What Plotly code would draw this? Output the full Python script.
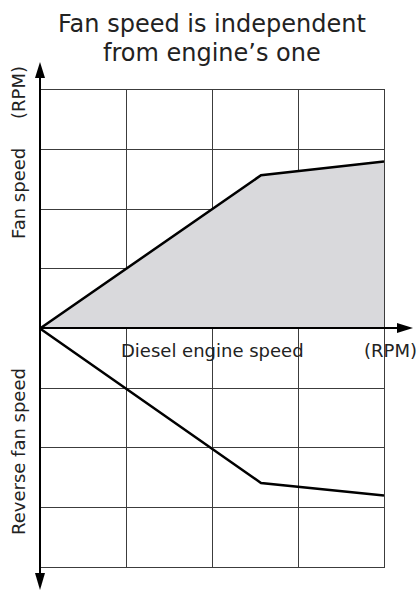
import plotly.graph_objs as go

# engine speed (grid units) and fan speed curves
engine_speed = [0, 2.57, 4]
fan_speed = [0, 2.57, 2.8]
reverse_fan_speed = [0, -2.59, -2.8]

x_ticks = [0, 1, 2, 3, 4]
y_ticks = [-4, -3, -2, -1, 0, 1, 2, 3, 4]

FONT = 'DejaVu Sans'
GRID = '#3c3c3c'
FILL = '#d9d9dc'
W, H = 419, 590
MARGINS = dict(l=40, r=35, t=90, b=23)


def px(x):
    return (x - MARGINS['l']) / (W - MARGINS['l'] - MARGINS['r'])


def py(y):
    return (H - MARGINS['b'] - y) / (H - MARGINS['t'] - MARGINS['b'])


fig = go.Figure()
fig.add_trace(go.Scatter(
    x=engine_speed, y=fan_speed, mode='lines', fill='tozeroy',
    fillcolor=FILL, line=dict(color='black', width=2.5), showlegend=False,
))
fig.add_trace(go.Scatter(
    x=engine_speed, y=reverse_fan_speed, mode='lines',
    line=dict(color='black', width=2.5), showlegend=False,
))

# axis lines with arrow heads (paper coords so they are not clipped)
x0, y0 = px(40), py(328)
shapes = [
    dict(type='line', xref='paper', yref='paper', x0=x0, x1=px(400),
         y0=y0, y1=y0, line=dict(color='black', width=2)),
    dict(type='line', xref='paper', yref='paper', x0=x0, x1=x0,
         y0=py(575), y1=py(72), line=dict(color='black', width=2)),
    dict(type='path', xref='paper', yref='paper', fillcolor='black',
         line=dict(width=0),
         path=f'M{px(413)},{y0} L{px(397)},{py(323)} L{px(397)},{py(333)} Z'),
    dict(type='path', xref='paper', yref='paper', fillcolor='black',
         line=dict(width=0),
         path=f'M{x0},{py(62)} L{px(35)},{py(78)} L{px(45)},{py(78)} Z'),
    dict(type='path', xref='paper', yref='paper', fillcolor='black',
         line=dict(width=0),
         path=f'M{x0},{py(590)} L{px(35)},{py(573)} L{px(45)},{py(573)} Z'),
]

label_font = dict(family=FONT, size=18, color='#222')
title_font = dict(family=FONT, size=24, color='#222')
annotations = [
    dict(text='Fan speed is independent', x=px(212), y=py(24),
         font=title_font),
    dict(text='from engine’s one', x=px(212), y=py(53), font=title_font),
    dict(text='Diesel engine speed', x=px(212), y=py(350), font=label_font),
    dict(text='(RPM)', x=px(390), y=py(350), font=label_font),
    dict(text='(RPM)', x=px(18), y=py(93), font=label_font, textangle=-90),
    dict(text='Fan speed', x=px(18), y=py(194), font=label_font,
         textangle=-90),
    dict(text='Reverse fan speed', x=px(18), y=py(452), font=label_font,
         textangle=-90),
]
for a in annotations:
    a.update(xref='paper', yref='paper', showarrow=False,
             xanchor='center', yanchor='middle')

fig.update_layout(
    width=W, height=H,
    margin=MARGINS,
    plot_bgcolor='white',
    paper_bgcolor='white',
    shapes=shapes,
    annotations=annotations,
    xaxis=dict(range=[0, 4], tickvals=x_ticks, showticklabels=False,
               showgrid=True, gridcolor=GRID, gridwidth=1, zeroline=False,
               showline=True, mirror=True, linecolor=GRID, linewidth=1,
               fixedrange=True),
    yaxis=dict(range=[-4, 4], tickvals=y_ticks, showticklabels=False,
               showgrid=True, gridcolor=GRID, gridwidth=1, zeroline=False,
               showline=True, mirror=True, linecolor=GRID, linewidth=1,
               fixedrange=True),
)

fig.write_html(
    "out.html",
    config={'displayModeBar': False},
    post_script="document.body.style.margin='0';"
                "document.body.style.overflow='hidden';",
)
